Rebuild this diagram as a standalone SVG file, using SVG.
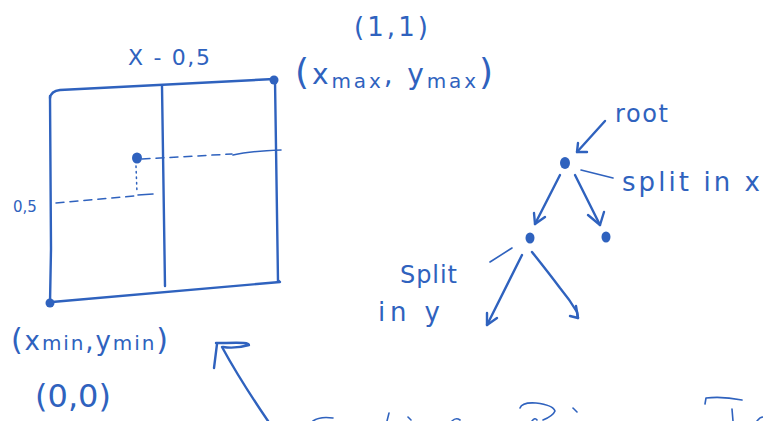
<svg xmlns="http://www.w3.org/2000/svg" width="763" height="421" viewBox="0 0 763 421">
<style>
.ink{fill:none;stroke:#2f62be;stroke-width:2.4;stroke-linecap:round;stroke-linejoin:round}
.thin{fill:none;stroke:#2f62be;stroke-width:1.6;stroke-linecap:round;stroke-linejoin:round}
.dash{fill:none;stroke:#2f62be;stroke-width:1.5;stroke-dasharray:8 6;stroke-linecap:round}
.dot{fill:none;stroke:#2f62be;stroke-width:1.5;stroke-dasharray:1.5 4;stroke-linecap:round}
.fill{fill:#2f62be}
text{fill:#2f62be;font-family:"DejaVu Sans","Liberation Sans",sans-serif}
</style>
<rect width="763" height="421" fill="#ffffff"/>

<g id="grid">
  <path class="ink" d="M50,98 Q51,91 60,90 L274,79"/>
  <path class="ink" d="M50,96 L51,249 L50,303"/>
  <path class="ink" d="M52,302 L280,282 L279,281"/>
  <path class="ink" d="M275,80 L278,281"/>
  <path class="ink" d="M162,86 L165,286"/>
  <circle class="fill" cx="274" cy="80" r="4.5"/>
  <circle class="fill" cx="50" cy="303" r="4.5"/>
</g>

<g id="point">
  <ellipse class="fill" cx="137" cy="158" rx="5" ry="5.5"/>
  <path class="dash" d="M142,159 L232,154"/>
  <path class="thin" d="M233,155 Q250,151 281,150"/>
  <path class="dot" d="M136,166 L137,193"/>
  <path class="thin" d="M138,195 L153,194"/>
  <path class="dash" d="M56,203 L135,196"/>
</g>

<g id="labels">
  <text x="128" y="65" font-size="22" textLength="82" lengthAdjust="spacing">X - 0,5</text>
  <text x="354" y="36" font-size="26" textLength="74" lengthAdjust="spacing">(1,1)</text>
  <text x="295" y="84" font-size="36" textLength="198" lengthAdjust="spacing">(<tspan font-size="28">x</tspan><tspan font-size="20" dy="4">max</tspan><tspan font-size="28" dy="-4">, y</tspan><tspan font-size="20" dy="4">max</tspan><tspan dy="-4">)</tspan></text>
  <text x="11" y="350" font-size="30" textLength="157" lengthAdjust="spacing">(<tspan font-size="26">x</tspan><tspan font-size="20">min</tspan><tspan font-size="26">,y</tspan><tspan font-size="20">min</tspan>)</text>
  <text x="35" y="407" font-size="32" textLength="76" lengthAdjust="spacing">(0,0)</text>
  <text x="13" y="212" font-size="15">0,5</text>
</g>

<g id="root-node">
  <ellipse class="fill" cx="565" cy="163" rx="5" ry="6"/>
  <text x="615" y="122" font-size="24" textLength="53" lengthAdjust="spacing">root</text>
  <text x="622" y="191" font-size="26" textLength="138" lengthAdjust="spacing">split in x</text>
</g>
<g id="left-child">
  <ellipse class="fill" cx="530" cy="238" rx="4.5" ry="5.5"/>
  <text x="400" y="283" font-size="24" textLength="57" lengthAdjust="spacing">Split</text>
  <text x="378" y="321" font-size="26" textLength="62" lengthAdjust="spacing">in y</text>
</g>
<g id="right-child">
  <ellipse class="fill" cx="606" cy="237" rx="4.5" ry="5.5"/>
</g>

<g id="connectors">
  <path class="ink" d="M605,121 L577,152"/>
  <path class="ink" d="M577,152 L578,143 M577,152 L587,152"/>
  <path class="thin" d="M581,170 L613,178"/>
  <path class="ink" d="M560,175 L535,224"/>
  <path class="ink" d="M535,224 L534,213 M535,224 L545,217"/>
  <path class="ink" d="M575,175 L600,225"/>
  <path class="ink" d="M600,225 L588,215 M600,225 L604,212"/>
  <path class="thin" d="M490,262 L512,248"/>
  <path class="ink" d="M522,255 L487,325"/>
  <path class="ink" d="M487,325 L487,313 M487,325 L497,318"/>
  <path class="ink" d="M532,252 Q548,272 560,288 Q570,300 577,312 L578,318"/>
  <path class="ink" d="M578,318 L570,316 M578,318 L576,306"/>
  <path class="ink" d="M268,421 Q240,380 222,347"/>
  <path class="ink" d="M217,344 L214,368 M216,343 L226,343 Q250,342 249,345 Q235,349 223,347"/>
</g>

<g id="cutoff">
  <path class="thin" d="M313,421 Q320,416 333,418"/>
  <path class="thin" d="M389,413 L387,421"/>
  <path class="thin" d="M408,417 L411,420"/>
  <path class="thin" d="M452,421 Q456,417 460,420"/>
  <path class="thin" d="M520,408 Q522,402 536,403 Q553,405 555,411 Q553,416 543,420"/>
  <path class="thin" d="M532,421 Q535,417 537,420"/>
  <path class="thin" d="M573,408 L577,412"/>
  <path class="thin" d="M705,404 L706,398 Q722,396 742,400"/>
  <path class="thin" d="M732,409 L733,421"/>
  <path class="thin" d="M757,421 Q760,417 763,417"/>
</g>
</svg>
